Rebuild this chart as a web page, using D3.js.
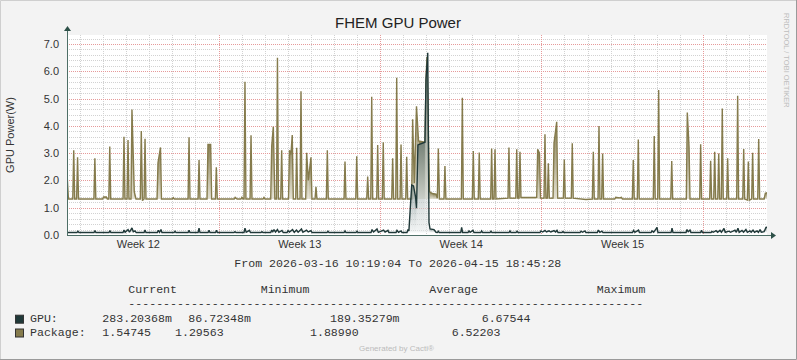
<!DOCTYPE html>
<html>
<head>
<meta charset="utf-8">
<script src="https://cdn.jsdelivr.net/npm/d3@7"></script>
<style>
  html, body { margin: 0; padding: 0; background: #f3f3f3; }
  svg { display: block; }
</style>
</head>
<body>
<svg id="chart" width="797" height="360"></svg>
<script>
// ---------------- data ----------------
const title = "FHEM GPU Power";
const yTitle = "GPU Power(W)";
const startTime = "2026-03-16T10:19:04Z";
const endTime = "2026-04-15T18:45:28Z";
const weekLabels = ["Week 12", "Week 13", "Week 14", "Week 15"];
const weekCenters = ["2026-03-19T12:00:00Z", "2026-03-26T12:00:00Z", "2026-04-02T12:00:00Z", "2026-04-09T12:00:00Z"];
const yTicks = [0, 1, 2, 3, 4, 5, 6, 7];
const yMax = 7.33;

// [hours after start, watts]
const packageSeries = [
  [0, 2.27], [1.5, 1.32],
  [6, 1.32], [7, 3.11], [8, 1.32],
  [10, 1.32], [11, 2.85], [12, 1.32],
  [28, 1.32], [29, 2.81], [30, 1.32],
  [37, 1.32], [38, 1.39], [41, 1.39], [42, 1.32],
  [43.5, 1.32], [44.5, 3.24], [45.5, 1.32],
  [58.3, 1.32], [59.3, 3.6], [60.3, 1.32],
  [62.5, 1.32], [63.5, 3.48], [64.5, 1.32],
  [66.6, 1.32], [67.6, 4.6], [70, 1.59], [71.8, 1.32],
  [76.3, 1.32], [77.3, 3.81], [78.5, 1.26], [80.2, 1.32], [81.2, 3.53], [82.2, 1.32],
  [93.7, 1.32], [94.7, 2.65], [97.3, 3.21], [98.3, 1.32],
  [109.6, 1.32], [110.6, 1.37], [111.6, 1.32],
  [126, 1.32], [127, 3.58], [128, 1.32],
  [136.4, 1.32], [137.4, 2.75], [138.4, 1.32],
  [145.7, 1.32], [146.7, 3.32], [149.5, 3.32], [150.5, 1.32],
  [154.4, 1.32], [155.4, 2.48], [156.4, 1.32],
  [174, 1.32], [175, 1.38], [177, 1.32], [181, 1.32], [182, 1.38], [183.3, 1.32],
  [184.2, 1.32], [185.2, 5.62], [186.2, 1.32],
  [190.5, 1.32], [191.5, 3.66], [192.5, 1.32],
  [204, 1.32], [205, 1.38], [206, 1.32],
  [212, 1.32], [213, 3.24], [214.7, 3.97], [216.3, 1.32], [218, 1.32], [219, 6.5], [220, 1.32],
  [222.4, 1.32], [223.4, 3.11], [224.4, 1.32],
  [230.5, 1.32], [231.5, 3.11], [233, 2.95], [234.4, 3.66], [235.5, 1.32],
  [238, 1.32], [239, 3.2], [240, 1.32], [242.5, 1.32], [243.5, 5.27], [244.5, 1.32],
  [248.4, 1.32], [249.4, 3.01], [251.1, 2.0], [253.9, 2.85], [254.9, 1.32],
  [258.1, 1.32], [259.1, 1.77], [260.1, 1.32],
  [269.9, 1.32], [270.9, 3.11], [271.9, 1.32],
  [288.3, 1.32], [289.3, 2.69], [290.3, 1.32],
  [300.5, 1.32], [301.5, 2.89], [302.5, 1.32],
  [311.9, 1.32], [312.9, 2.14], [313.9, 1.32], [316.1, 1.32], [317.1, 5.07], [318.1, 1.32],
  [322.3, 1.32], [323.3, 3.3], [324.3, 1.32],
  [328.1, 1.32], [329.1, 3.4], [330.1, 1.32],
  [337.9, 1.32], [338.9, 2.81], [339.9, 1.32],
  [342.1, 1.32], [343.1, 5.76], [344.1, 1.32],
  [346.6, 1.32], [347.6, 3.32], [348.6, 1.32],
  [352.5, 1.32], [353.5, 2.87], [354.5, 1.32],
  [358.7, 1.32], [359.7, 4.24], [361.4, 1.9], [363.7, 4.72], [365.8, 3.45], [372.5, 3.4],
  [373.6, 5.7], [374.6, 6.52], [377.2, 1.59], [380, 1.52], [384, 1.5], [385.4, 1.35], [386.4, 3.17], [387.6, 1.32],
  [392.3, 1.32], [393.3, 2.53], [394.3, 1.32],
  [410.4, 1.32], [411.4, 5.03], [412.4, 1.32],
  [421.8, 1.32], [422.8, 3.08], [423.8, 1.32],
  [428, 1.32], [429, 3.02], [430, 1.32],
  [440.9, 1.32], [441.9, 3.17], [442.9, 1.32], [444.4, 1.32], [445.4, 3.14], [446.4, 1.32],
  [458.9, 1.35], [459.9, 3.21], [460.9, 1.35],
  [467, 1.35], [468, 3.14], [469, 1.35], [470.4, 1.35], [471.4, 3.05], [472.4, 1.38],
  [488.8, 1.38], [489.8, 3.14], [491.7, 3.0], [492.7, 1.35],
  [496.4, 1.35], [497.4, 3.69], [498.4, 1.35], [499.9, 1.35], [500.9, 2.63], [501.9, 1.35],
  [505.8, 1.35], [506.8, 3.36], [509.6, 4.15], [510.6, 1.35],
  [516.5, 1.35], [517.5, 2.77], [518.5, 1.35],
  [524.8, 1.35], [525.8, 3.36], [526.8, 1.35],
  [540, 1.3], [546.7, 1.32], [547.7, 3.05], [548.7, 1.32],
  [552.6, 1.32], [553.6, 3.99], [554.6, 1.32], [556.4, 1.32], [557.4, 2.99], [558.4, 1.32],
  [570, 1.32], [571, 1.38], [575, 1.36], [577, 1.38], [578, 1.32],
  [588.3, 1.32], [589.3, 2.75], [590.3, 1.32], [593.5, 1.32], [594.5, 3.5], [595.5, 1.32],
  [610.1, 1.32], [611.1, 3.63], [612.1, 1.32], [614.7, 1.32], [615.7, 5.31], [616.7, 1.32],
  [628.3, 1.32], [629.3, 2.71], [630.3, 1.32],
  [644.5, 1.32], [645.5, 4.49], [647.3, 3.24], [648.3, 1.32],
  [658.4, 1.32], [659.4, 3.33], [660.4, 1.32],
  [668.8, 1.32], [669.8, 2.72], [670.8, 1.32], [673, 1.32], [674, 3.05], [675, 1.32],
  [677.2, 1.32], [678.2, 2.99], [679.2, 1.32], [680.9, 1.32], [681.9, 4.64], [682.9, 1.32],
  [686.5, 1.32], [687.5, 2.81], [688.5, 1.32],
  [696.9, 1.32], [697.9, 5.1], [698.9, 1.32],
  [703.2, 1.32], [704.2, 3.15], [705.2, 1.32], [708, 1.28], [709, 2.69], [710, 1.28],
  [712.5, 1.32], [713.5, 3.01], [714.5, 1.32],
  [718.8, 1.32], [719.8, 3.52], [720.8, 1.32],
  [725.5, 1.32], [726.7, 1.53], [728.4, 1.55]
];

const gpuSeries = [
  [0, 0.09], [10.4, 0.09], [11.4, 0.14], [12.4, 0.09],
  [28.1, 0.09], [29.1, 0.16], [30.1, 0.09],
  [43.7, 0.09], [44.7, 0.16], [45.7, 0.09],
  [58.3, 0.09], [59.3, 0.18], [60.5, 0.1], [63.5, 0.2], [65, 0.1], [67.6, 0.26], [69, 0.12], [70.8, 0.15], [72, 0.09],
  [80.2, 0.09], [81.2, 0.18], [82.2, 0.09],
  [94, 0.09], [95, 0.17], [96.3, 0.1], [97.8, 0.2], [98.8, 0.09],
  [111.4, 0.09], [112.4, 0.14], [113.4, 0.09],
  [126, 0.09], [127, 0.17], [128, 0.09],
  [136.4, 0.09], [137.4, 0.25], [138.4, 0.09],
  [146.8, 0.09], [147.8, 0.17], [148.8, 0.09],
  [154.6, 0.09], [155.6, 0.17], [156.6, 0.09],
  [173.8, 0.09], [174.8, 0.12], [175.8, 0.09],
  [184.2, 0.09], [185.2, 0.25], [186.5, 0.1], [189.9, 0.17], [190.9, 0.09],
  [201.9, 0.09], [202.9, 0.12], [203.9, 0.09],
  [212, 0.09], [213, 0.18], [214.2, 0.12], [215.4, 0.2], [217, 0.11], [219, 0.2], [220.5, 0.1], [223.7, 0.17], [225, 0.09],
  [229, 0.09], [230, 0.16], [231.5, 0.11], [234.7, 0.2], [236.5, 0.1], [238.8, 0.18], [240.5, 0.1],
  [244, 0.22], [245.5, 0.1], [249.2, 0.18], [251, 0.11], [253.9, 0.16], [255, 0.09],
  [270.6, 0.09], [271.6, 0.14], [272.6, 0.09],
  [288.3, 0.09], [289.3, 0.15], [290.3, 0.09],
  [300.8, 0.09], [301.8, 0.14], [302.8, 0.09],
  [316.4, 0.09], [317.4, 0.2], [319, 0.11], [322.6, 0.22], [324, 0.1], [329.4, 0.18], [331, 0.11], [334, 0.17], [335, 0.09],
  [342.4, 0.09], [343.4, 0.17], [345, 0.1], [347.6, 0.15], [348.6, 0.09],
  [353.8, 0.09], [354.8, 0.2], [355.8, 0.15], [358.7, 1.83], [360.6, 1.8], [362.7, 1.4], [363.7, 0.98],
  [365.2, 3.3], [372.5, 3.4], [373.6, 5.7], [375.4, 6.68], [376.7, 0.45], [377.8, 0.22], [381.9, 0.2], [384, 0.1],
  [385.4, 0.09], [386.4, 0.14], [387.4, 0.09],
  [409.7, 0.09], [410.7, 0.28], [411.7, 0.09],
  [417.3, 0.09], [418.3, 0.15], [419.5, 0.1], [422.5, 0.17], [423.5, 0.09],
  [430.5, 0.09], [431.5, 0.15], [432.5, 0.09],
  [440.2, 0.09], [441.2, 0.14], [442.2, 0.09],
  [460, 0.09], [461, 0.15], [462, 0.09],
  [467.3, 0.09], [468.3, 0.14], [469.3, 0.09],
  [492.2, 0.09], [493.2, 0.15], [495, 0.11], [497.4, 0.17], [499, 0.11], [501.6, 0.15], [503.5, 0.11],
  [506.8, 0.16], [508.5, 0.11], [509.9, 0.17], [511, 0.09],
  [515.1, 0.09], [516.1, 0.13], [517.1, 0.09],
  [533.9, 0.09], [534.9, 0.14], [536.5, 0.1], [539, 0.15], [540, 0.09],
  [551.9, 0.09], [552.9, 0.18], [554.5, 0.1], [556.7, 0.14], [557.7, 0.09],
  [588.5, 0.09], [589.5, 0.17], [591, 0.1], [594.7, 0.18], [595.7, 0.09],
  [607.8, 0.09], [608.8, 0.15], [610.5, 0.1], [614, 0.28], [615, 0.09],
  [628.6, 0.09], [629.6, 0.25], [630.6, 0.09],
  [644.2, 0.09], [645.2, 0.2], [646.5, 0.12], [648.3, 0.18], [649.3, 0.09],
  [659.3, 0.09], [660.3, 0.17], [661.3, 0.09],
  [670.2, 0.09], [671.2, 0.13], [672.5, 0.1], [675.4, 0.16], [677, 0.1], [679.5, 0.17], [681, 0.1],
  [683.7, 0.24], [685, 0.1], [688.9, 0.14], [690.5, 0.1], [695.1, 0.18], [696.5, 0.1], [698.2, 0.25],
  [699.5, 0.1], [702.4, 0.17], [704, 0.1], [706.5, 0.2], [708, 0.1], [710.7, 0.15], [712, 0.1],
  [713.9, 0.18], [715.5, 0.1], [718, 0.15], [719.5, 0.1], [721.2, 0.2], [722.5, 0.1], [725.4, 0.12],
  [727.4, 0.28], [728.4, 0.283]
];

const legendHeaders = ["Current", "Minimum", "Average", "Maximum"];
const legendRule = "-".repeat(74);
const gpuStats = ["283.20368m", "86.72348m", "189.35279m", "6.67544"];
const packageStats = ["1.54745", "1.29563", "1.88990", "6.52203"];
const seriesNames = ["GPU:", "Package:"];

// ---------------- drawing ----------------
const svg = d3.select("#chart");
const W = 797, H = 360;
const plot = { left: 67, right: 767, top: 35, bottom: 235 };
const colors = { gpu: "#1f3838", pkg: "#857b4c" };

const t0 = new Date(startTime), t1 = new Date(endTime);
const hour = 3600e3;
const toDate = h => new Date(+t0 + h * hour);

const x = d3.scaleUtc().domain([t0, t1]).range([plot.left, plot.right]);
const y = d3.scaleLinear().domain([0, yMax]).range([plot.bottom, plot.top]);

// frame
svg.append("rect").attr("x", 0).attr("y", 0).attr("width", W).attr("height", H).attr("fill", "#f3f3f3");
svg.append("path").attr("d", `M0.5,${H}V0.5H${W}`).attr("fill", "none").attr("stroke", "#cfcfcf");
svg.append("path").attr("d", `M0,${H - 0.5}H${W - 0.5}V0`).attr("fill", "none").attr("stroke", "#9a9a9a");

// plot background
svg.append("rect").attr("x", plot.left).attr("y", plot.top)
  .attr("width", plot.right - plot.left).attr("height", plot.bottom - plot.top).attr("fill", "#ffffff");

const defs = svg.append("defs");
defs.append("clipPath").attr("id", "plotClip").append("rect")
  .attr("x", plot.left).attr("y", plot.top - 2).attr("width", plot.right - plot.left).attr("height", plot.bottom - plot.top + 2);

function grad(id, top, bottom, topOp, bottomOp) {
  const g = defs.append("linearGradient").attr("id", id).attr("x1", 0).attr("y1", 0).attr("x2", 0).attr("y2", 1);
  g.append("stop").attr("offset", "0%").attr("stop-color", top).attr("stop-opacity", topOp);
  g.append("stop").attr("offset", "100%").attr("stop-color", bottom).attr("stop-opacity", bottomOp);
}
grad("pkgGrad", "#877e52", "#e2dfd0", 1, 1);
grad("gpuGrad", "#6f8282", "#e4e9e9", 0.75, 0.5);

// grid
const grid = svg.append("g");
const days = d3.utcDay.range(d3.utcDay.ceil(t0), t1);
const isMonday = d => d.getUTCDay() === 1;
grid.selectAll(".vmin").data(days.filter(d => !isMonday(d))).join("line")
  .attr("x1", d => Math.round(x(d)) + 0.5).attr("x2", d => Math.round(x(d)) + 0.5)
  .attr("y1", plot.top).attr("y2", plot.bottom)
  .attr("stroke", "#d2d2d2").attr("stroke-dasharray", "1,1");
const minorY = d3.range(1, Math.floor(yMax * 5) + 1).map(i => i / 5).filter(v => Math.abs(v - Math.round(v)) > 1e-6);
grid.selectAll(".hmin").data(minorY).join("line")
  .attr("x1", plot.left).attr("x2", plot.right)
  .attr("y1", d => Math.round(y(d)) + 0.5).attr("y2", d => Math.round(y(d)) + 0.5)
  .attr("stroke", "#d2d2d2").attr("stroke-dasharray", "1,1");
grid.selectAll(".vmaj").data(days.filter(isMonday)).join("line")
  .attr("x1", d => Math.round(x(d)) + 0.5).attr("x2", d => Math.round(x(d)) + 0.5)
  .attr("y1", plot.top).attr("y2", plot.bottom)
  .attr("stroke", "#e69a9a").attr("stroke-dasharray", "1,1");
grid.selectAll(".hmaj").data(yTicks.filter(v => v > 0)).join("line")
  .attr("x1", plot.left).attr("x2", plot.right)
  .attr("y1", d => Math.round(y(d)) + 0.5).attr("y2", d => Math.round(y(d)) + 0.5)
  .attr("stroke", "#e69a9a").attr("stroke-dasharray", "1,1");

// series
function drawSeries(series, color, gradId) {
  const g = svg.append("g").attr("clip-path", "url(#plotClip)");
  const floor = d3.mode(series, d => d[1]);
  const area = d3.area().x(d => x(toDate(d[0]))).y0(y(floor)).y1(d => y(d[1]));
  const segs = d3.pairs(series);
  g.selectAll("path.seg").data(segs.filter(s => s[0][1] > floor || s[1][1] > floor)).join("path")
    .attr("class", "seg").attr("d", s => area(s)).attr("fill", `url(#${gradId})`);
  const line = d3.line().x(d => x(toDate(d[0]))).y(d => y(d[1]));
  g.append("path").datum(series).attr("d", line).attr("fill", "none")
    .attr("stroke", color).attr("stroke-width", 1.4).attr("stroke-linejoin", "miter").attr("stroke-miterlimit", 2);
}
drawSeries(packageSeries, colors.pkg, "pkgGrad");
drawSeries(gpuSeries, colors.gpu, "gpuGrad");

// axes lines + arrows
const axisColor = "#4d6e66";
svg.append("line").attr("x1", plot.left + 0.5).attr("x2", plot.left + 0.5).attr("y1", plot.bottom).attr("y2", plot.top - 5)
  .attr("stroke", axisColor);
svg.append("line").attr("x1", plot.left).attr("x2", plot.right + 5).attr("y1", plot.bottom + 0.5).attr("y2", plot.bottom + 0.5)
  .attr("stroke", axisColor);
svg.append("path").attr("d", `M${plot.left - 3},${plot.top - 4}L${plot.left + 0.5},${plot.top - 9}L${plot.left + 4},${plot.top - 4}Z`)
  .attr("fill", "#2d5048");
svg.append("path").attr("d", `M${plot.right + 4},${plot.bottom - 3}L${plot.right + 9},${plot.bottom + 0.5}L${plot.right + 4},${plot.bottom + 4}Z`)
  .attr("fill", "#2d5048");

// axis labels
const xAxis = d3.axisBottom(x).tickValues(weekCenters.map(d => new Date(d)))
  .tickFormat((d, i) => weekLabels[i]).tickSize(0).tickPadding(5);
const gx = svg.append("g").attr("transform", `translate(0,${plot.bottom})`).call(xAxis);
gx.select(".domain").remove();
gx.selectAll("text").attr("font-family", "'Liberation Sans', Arial, sans-serif").attr("font-size", 11).attr("fill", "#333");

const yAxis = d3.axisLeft(y).tickValues(yTicks).tickFormat(d3.format(".1f")).tickSize(0).tickPadding(8);
const gy = svg.append("g").attr("transform", `translate(${plot.left},0)`).call(yAxis);
gy.select(".domain").remove();
gy.selectAll("text").attr("font-family", "'Liberation Sans', Arial, sans-serif").attr("font-size", 11).attr("fill", "#333");

// titles
svg.append("text").attr("x", 398).attr("y", 28).attr("text-anchor", "middle")
  .attr("font-family", "'Liberation Sans', Arial, sans-serif").attr("font-size", 15).attr("fill", "#222").text(title);
svg.append("text").attr("transform", `translate(14,${(plot.top + plot.bottom) / 2}) rotate(-90)`).attr("text-anchor", "middle")
  .attr("font-family", "'Liberation Sans', Arial, sans-serif").attr("font-size", 11).attr("fill", "#333").text(yTitle);
svg.append("text").attr("transform", "translate(783.5,13) rotate(90)")
  .attr("font-family", "'Liberation Sans', Arial, sans-serif").attr("font-size", 7.5).attr("fill", "#bdbdbd")
  .text("RRDTOOL / TOBI OETIKER");

// legend
const mono = "'Liberation Mono', 'DejaVu Sans Mono', monospace";
const monoSize = 11.6;
function mtext(tx, ty, s) {
  svg.append("text").attr("x", tx).attr("y", ty).attr("font-family", mono).attr("font-size", monoSize)
    .attr("fill", "#333").attr("xml:space", "preserve").text(s);
}
mtext(234.3, 267, `From ${startTime.slice(0, 10)} ${startTime.slice(11, 19)} To ${endTime.slice(0, 10)} ${endTime.slice(11, 19)}`);
const headerX = [128.3, 260.7, 429.3, 596.7];
legendHeaders.forEach((h, i) => mtext(headerX[i], 293.3, h));
mtext(128.3, 307.3, legendRule);

const rows = [
  { name: seriesNames[0], stats: gpuStats, color: colors.gpu, y: 321.7, xs: [102.3, 188.3, 330, 481.7] },
  { name: seriesNames[1], stats: packageStats, color: colors.pkg, y: 335.5, xs: [102.3, 175, 310, 451.7] }
];
rows.forEach(r => {
  svg.append("rect").attr("x", 15.5).attr("y", r.y - 6.5).attr("width", 8).attr("height", 8)
    .attr("fill", r.color).attr("stroke", "#333").attr("stroke-width", 1);
  mtext(30, r.y, r.name);
  r.stats.forEach((s, i) => mtext(r.xs[i], r.y, s));
});

svg.append("text").attr("x", 359).attr("y", 351)
  .attr("font-family", "'Liberation Sans', Arial, sans-serif").attr("font-size", 8).attr("fill", "#bbbbbb")
  .text("Generated by Cacti®");
</script>
</body>
</html>
